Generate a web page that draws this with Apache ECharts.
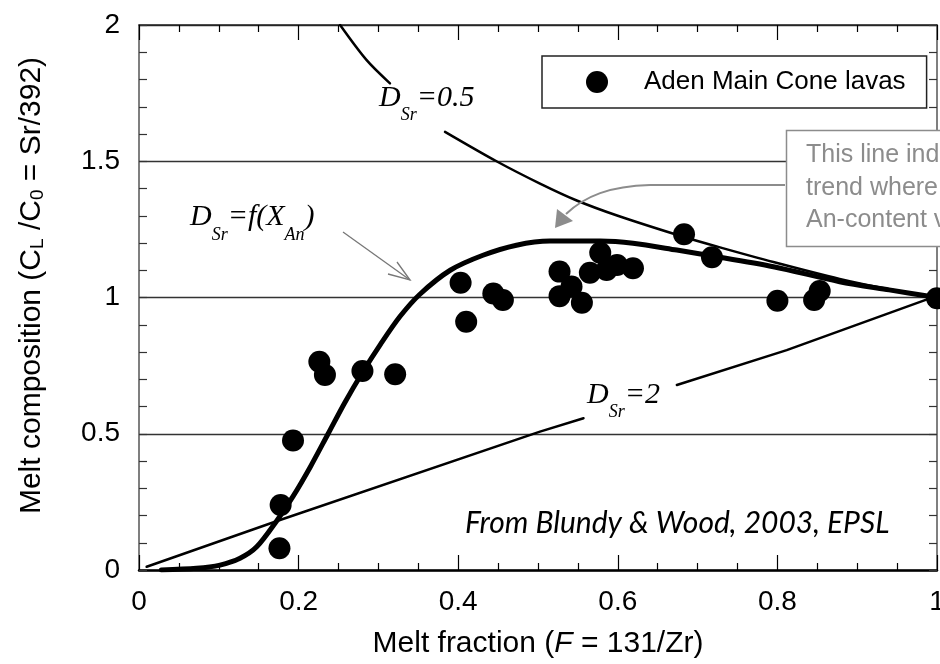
<!DOCTYPE html>
<html><head><meta charset="utf-8">
<script src="https://cdn.jsdelivr.net/npm/echarts@6/dist/echarts.min.js"></script>
<style>html,body{margin:0;padding:0;background:#fff}#c{width:940px;height:664px}</style>
</head><body><div id="c"></div>
<script>
// ---- data ----
const xTickValues = [0, 0.2, 0.4, 0.6, 0.8, 1];
const yTickValues = [0, 0.5, 1, 1.5, 2];
const lavaF = [0.176,0.1775,0.193,0.226,0.233,0.280,0.321,0.403,0.410,0.444,0.456,0.527,0.527,0.542,0.555,0.565,0.578,0.586,0.599,0.619,0.683,0.718,0.800,0.846,0.853,1.000];
const lavaC = [0.080,0.2385,0.475,0.764,0.716,0.730,0.718,1.054,0.911,1.015,0.991,1.095,1.005,1.040,0.981,1.091,1.164,1.101,1.119,1.107,1.232,1.148,0.988,0.991,1.024,0.997];
// D_Sr = 0.5 curve (two pieces, broken by its label)
const dsr05A = [[0.252,2.0],[0.285,1.872],[0.3145,1.786]];
const dsr05B = [[0.3835,1.608],[0.448,1.500],[0.5025,1.418],[0.5485,1.356],[0.600,1.300],[0.683,1.222],[0.728,1.184],[0.795,1.130],[0.878,1.068],[0.940,1.030],[1.0,1.0]];
// D_Sr = f(X_An) curve
const dsrAn = [[0.028,0.000],[0.072,0.006],[0.1015,0.018],[0.1266,0.043],[0.1475,0.085],[0.1725,0.180],[0.193,0.270],[0.215,0.380],[0.237,0.500],[0.258,0.615],[0.280,0.725],[0.303,0.830],[0.327,0.930],[0.352,1.012],[0.390,1.100],[0.431,1.155],[0.473,1.192],[0.515,1.207],[0.578,1.207],[0.619,1.199],[0.674,1.174],[0.711,1.156],[0.795,1.113],[0.878,1.058],[0.940,1.028],[1.0,1.0]];
// D_Sr = 2 line (two pieces, broken by its label)
const dsr2A = [[0.0096,0.012],[0.1767,0.1835],[0.5025,0.5076],[0.557,0.557]];
const dsr2B = [[0.674,0.679],[0.8117,0.807],[0.991,0.997],[1.0,1.0]];

const SANS = '"Liberation Sans", Arial, Helvetica, sans-serif';
const SERIF = '"Liberation Serif", "Times New Roman", serif';

const ctx = document.createElement('canvas').getContext('2d');
function tw(t, font){ ctx.font = font; return ctx.measureText(t).width; }
function mathLabel(x, baseY, parts){
  const els = []; let cx = x;
  parts.forEach(p => {
    const [t, size, dy] = p;
    const font = 'italic ' + size + 'px ' + SERIF;
    els.push({type:'text', x: cx, y: baseY + dy - 0.32*size, z: 20,
      style:{text: t, font: font, fill:'#000', align:'left', verticalAlign:'middle'}});
    cx += tw(t, font);
  });
  return els;
}

const chart = echarts.init(document.getElementById('c'), null, {renderer:'canvas'});

function tickAxis(extra){
  return Object.assign({
    type:'value', min:0, max:1, interval:0.2,
    axisLine:{show:true, onZero:false, lineStyle:{color:'#000', width:1.5}},
    axisTick:{show:true, inside:true, length:15, lineStyle:{color:'#000', width:1.2}},
    minorTick:{show:true, splitNumber:4, length:7, lineStyle:{color:'#000', width:1.2}},
    splitLine:{show:false}
  }, extra);
}

const graphics = [].concat(
  mathLabel(379, 108, [['D',30,0],['Sr',18,13],['=0.5',30,0]]),
  mathLabel(190, 227, [['D',30,0],['Sr',18,14],['=f(X',30,0],['An',18,14],[')',30,0]]),
  mathLabel(587, 405, [['D',30,0],['Sr',18,13],['=2',30,0]]),
  [
    {type:'rect', z:15, shape:{x:786.5, y:130.5, width:220, height:116},
      style:{fill:'#fff', stroke:'#8c8c8c', lineWidth:1.5}},
    {type:'text', z:16, x:806, y:139,
      style:{text:'This line indicates the\ntrend where plagioclase\nAn-content varies', font:'25px ' + SANS,
        fill:'#8c8c8c', lineHeight:32.5, align:'left', verticalAlign:'top'}},
    {type:'line', z:16, shape:{x1:785, y1:185, x2:650, y2:185},
      style:{stroke:'#8c8c8c', lineWidth:2}},
    {type:'bezierCurve', z:16, shape:{x1:650, y1:185, cpx1:610, cpy1:186, cpx2:585, cpy2:196, x2:566, y2:214},
      style:{fill:null, stroke:'#8c8c8c', lineWidth:2}},
    {type:'polygon', z:16, shape:{points:[[555,228],[557,209],[573,221]]},
      style:{fill:'#8c8c8c'}},
    {type:'polyline', z:16, shape:{points:[[343,232],[410,280]]},
      style:{stroke:'#777', lineWidth:1.3, fill:null}},
    {type:'polyline', z:16, shape:{points:[[388,274],[410,280],[397,262]]},
      style:{stroke:'#777', lineWidth:1.3, fill:null}},
    {type:'text', z:16, x:465, y:533 - 0.32*30,
      style:{text:'From Blundy & Wood, 2003, EPSL', font:'italic 30px Lato, "Open Sans", sans-serif',
        fill:'#000', align:'left', verticalAlign:'middle'}}
  ]
);

function lineSeries(data, width, smooth){
  return {type:'line', data:data, symbol:'none', showSymbol:false, smooth:smooth, z:3,
    lineStyle:{color:'#000', width:width, join:'round', cap:'round'}, itemStyle:{color:'#000'}, silent:true, animation:false};
}

chart.setOption({
  animation:false,
  backgroundColor:'#fff',
  grid:{left:139, right:3, top:25, bottom:94, containLabel:false, outerBoundsMode:'none'},
  legend:{
    data:[{name:'Aden Main Cone lavas', icon:'circle', itemStyle:{color:'#000', opacity:1}}],
    left:542, top:56, orient:'horizontal',
    itemWidth:84, itemHeight:22, padding:[13,21,13,44],
    borderColor:'#222', borderWidth:1.5, backgroundColor:'#fff',
    textStyle:{fontSize:26, fontFamily:SANS, color:'#000'},
    selectedMode:false
  },
  xAxis:[
    tickAxis({position:'bottom',
      axisLine:{show:true, onZero:false, lineStyle:{color:'#000', width:2.5}},
      axisLabel:{show:true, fontSize:28, fontFamily:SANS, color:'#000', margin:18},
      name:'Melt fraction ({i|F} = 131/Zr)', nameLocation:'middle', nameGap:59,
      nameTextStyle:{fontSize:30, fontFamily:SANS, color:'#000',
        rich:{i:{fontSize:30, fontFamily:SANS, fontStyle:'italic', color:'#000'}}}
    }),
    tickAxis({position:'top', axisLabel:{show:false},
      axisLine:{show:true, onZero:false, lineStyle:{color:'#222', width:1.5}}})
  ],
  yAxis:[
    {type:'value', min:0, max:2, interval:0.5, position:'left',
      axisLine:{show:true, onZero:false, lineStyle:{color:'#555', width:1.5}},
      axisTick:{show:true, inside:true, length:8, lineStyle:{color:'#333', width:1.2}},
      minorTick:{show:true, splitNumber:5, length:8, lineStyle:{color:'#333', width:1.2}},
      splitLine:{show:true, lineStyle:{color:'#333', width:1.3}},
      axisLabel:{fontSize:28, fontFamily:SANS, color:'#000', margin:19},
      name:'Melt composition (C{s|L} /C{s|0} = Sr/392)', nameLocation:'middle', nameGap:92, nameRotate:90,
      nameTextStyle:{fontSize:30, fontFamily:SANS, color:'#000', padding:[0,0,0,24],
        rich:{s:{fontSize:19, fontFamily:SANS, color:'#000', verticalAlign:'bottom', lineHeight:19, padding:[16,0,0,0]}}}
    },
    {type:'value', min:0, max:2, interval:0.5, position:'right',
      axisLine:{show:true, onZero:false, lineStyle:{color:'#555', width:1.5}},
      axisTick:{show:true, inside:true, length:8, lineStyle:{color:'#333', width:1.2}},
      minorTick:{show:true, splitNumber:5, length:8, lineStyle:{color:'#333', width:1.2}},
      splitLine:{show:false}, axisLabel:{show:false}
    }
  ],
  series:[
    lineSeries(dsr2A, 2.5, false),
    lineSeries(dsr2B, 2.5, false),
    lineSeries(dsr05A, 2.5, 0.3),
    lineSeries(dsr05B, 2.5, 0.3),
    lineSeries(dsrAn, 5, 0.3),
    {type:'scatter', name:'Aden Main Cone lavas', z:5,
      data: lavaF.map((f,i)=>[f, lavaC[i]]),
      symbol:'circle', symbolSize:22, itemStyle:{color:'#000', opacity:1}, animation:false}
  ],
  graphic: graphics
});
</script></body></html>
